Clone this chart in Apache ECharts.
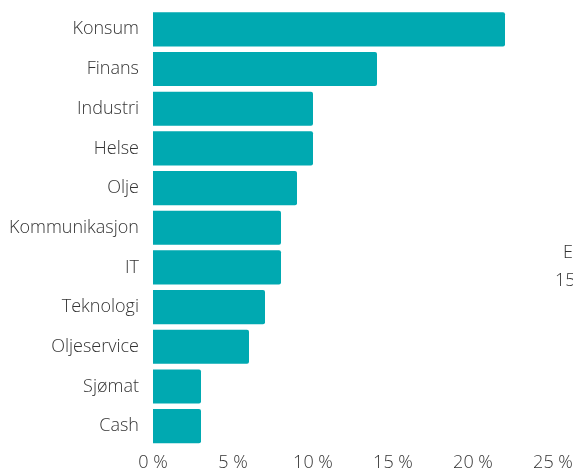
<!DOCTYPE html>
<html>
<head>
<meta charset="utf-8">
<script src="https://cdn.jsdelivr.net/npm/echarts@6/dist/echarts.min.js"></script>
<style>
  html, body { margin: 0; padding: 0; background: #fff; }
  #chart { width: 573px; height: 470px; }
</style>
</head>
<body>
<div id="chart"></div>
<script>
const sectors = ["Konsum", "Finans", "Industri", "Helse", "Olje", "Kommunikasjon", "IT", "Teknologi", "Oljeservice", "Sjømat", "Cash"];
const weights = [22, 14, 10, 10, 9, 8, 8, 7, 6, 3, 3];
const xTicks = [0, 25, 5]; // min, max, step

const font = "'Open Sans', 'Noto Sans', sans-serif";
const textColor = "#333333";

let chart;

const initChart = () => {
  chart = echarts.init(document.getElementById("chart"));
  chart.setOption({
    animation: false,
    grid: { left: 153, right: 20, top: 9.5, bottom: 24, containLabel: false, outerBoundsMode: "none" },
    xAxis: {
      type: "value",
      min: xTicks[0],
      max: xTicks[1],
      interval: xTicks[2],
      axisLine: { show: false },
      axisTick: { show: false },
      splitLine: { show: false },
      axisLabel: {
        formatter: "{value} %",
        fontFamily: font,
        fontWeight: 300,
        fontSize: 18,
        color: textColor,
        margin: 8
      }
    },
    yAxis: {
      type: "category",
      inverse: true,
      data: sectors,
      axisLine: { show: false },
      axisTick: { show: false },
      axisLabel: {
        fontFamily: font,
        fontWeight: 300,
        fontSize: 18,
        color: textColor,
        margin: 14,
        padding: [5, 0, 0, 0]
      }
    },
    series: [{
      type: "bar",
      data: weights,
      barCategoryGap: "14%",
      itemStyle: { color: "#00a9b1", borderRadius: [0, 2, 2, 0] }
    }],
    graphic: [
      { type: "text", left: 563, top: 244, style: { text: "E", font: "300 18px " + font, fill: textColor } },
      { type: "text", left: 555, top: 272, style: { text: "15", font: "300 18px " + font, fill: textColor } }
    ]
  });
};

document.addEventListener("DOMContentLoaded", initChart);
window.addEventListener("resize", () => chart.resize());
</script>
</body>
</html>
